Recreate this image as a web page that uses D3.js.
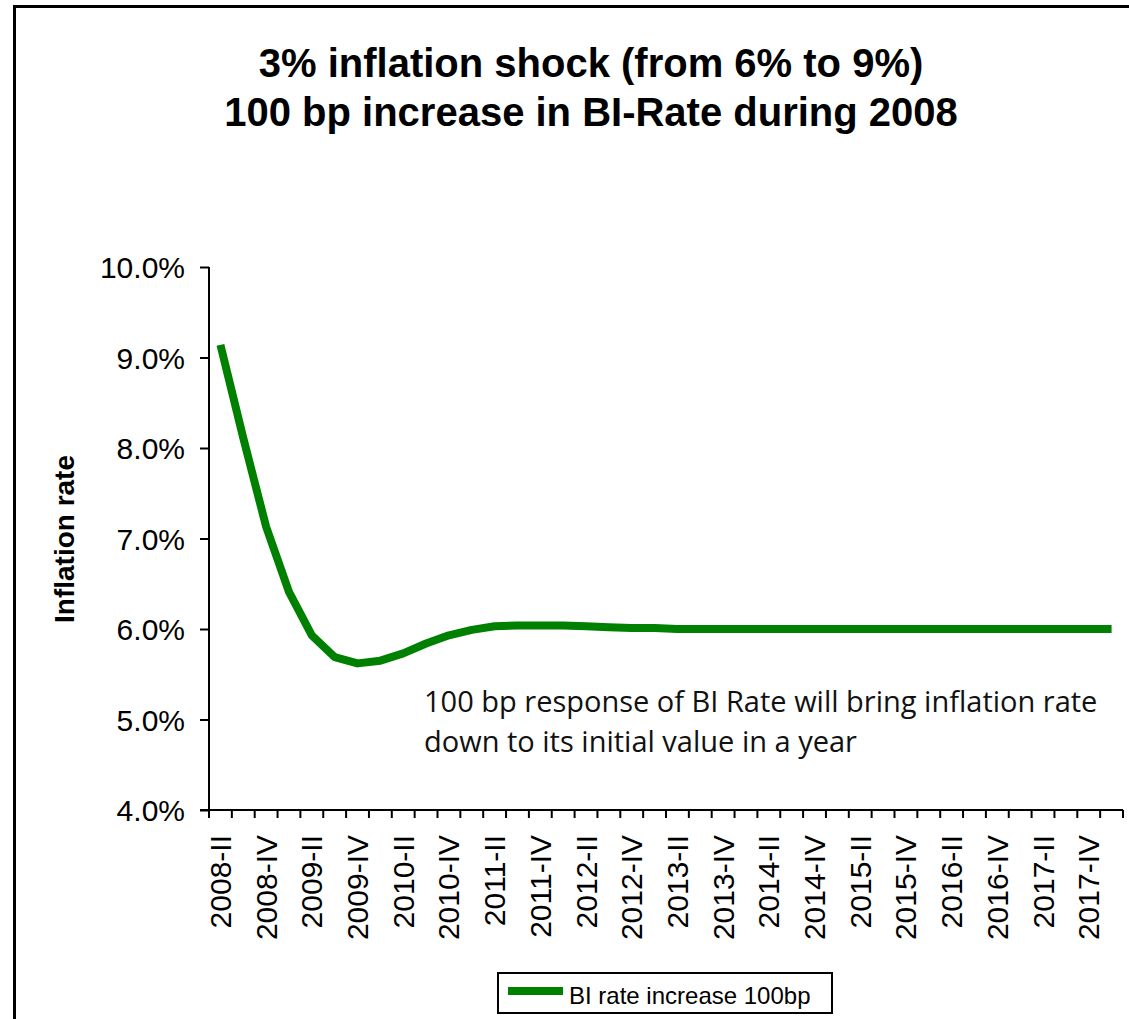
<!DOCTYPE html>
<html>
<head>
<meta charset="utf-8">
<script src="https://cdn.jsdelivr.net/npm/d3@7"></script>
<style>
  body { margin: 0; background: #fff; }
  svg { display: block; }
</style>
</head>
<body>
<div id="vis"></div>
<script>
// quarters from 2008-II to 2018-I
var romans = ['I', 'II', 'III', 'IV'];
var quarters = [];
for (var yr = 2008; yr <= 2018; yr++) {
  romans.forEach(function (r, i) {
    if (yr === 2008 && i === 0) return;
    if (yr === 2018 && i > 0) return;
    quarters.push(yr + '-' + r);
  });
}

// inflation rate (%)
var inflation = [
  9.14, 8.11, 7.13, 6.41, 5.93, 5.69, 5.62, 5.65, 5.73, 5.84,
  5.93, 5.99, 6.03, 6.04, 6.04, 6.04, 6.03, 6.02, 6.01, 6.01,
  6.00, 6.00, 6.00, 6.00, 6.00, 6.00, 6.00, 6.00, 6.00, 6.00,
  6.00, 6.00, 6.00, 6.00, 6.00, 6.00, 6.00, 6.00, 6.00, 6.00
];

var yTicks = [4, 5, 6, 7, 8, 9, 10];
var titleLines = ['3% inflation shock (from 6% to 9%)', '100 bp increase in BI-Rate during 2008'];
var noteLines = ['100 bp response of BI Rate will bring inflation rate', 'down to its initial value in a year'];
var seriesName = 'BI rate increase 100bp';

var width = 1129;
var height = 1019;
var green = '#008000';

var svg = d3.select('#vis').append('svg')
  .attr('width', width)
  .attr('height', height);

// outer frame (right/bottom edges fall outside the picture)
svg.append('rect')
  .attr('x', 14.5).attr('y', 6.5)
  .attr('width', 1140).attr('height', 1040)
  .attr('fill', 'none')
  .attr('stroke', '#000')
  .attr('stroke-width', 3);

// title
svg.append('text')
  .attr('text-anchor', 'middle')
  .style('font-family', 'Liberation Sans, Arial, sans-serif')
  .style('font-weight', 'bold')
  .style('font-size', '40px')
  .selectAll('tspan')
  .data(titleLines)
  .enter().append('tspan')
  .attr('x', 591)
  .attr('y', function (d, i) { return 77 + i * 49; })
  .text(function (d) { return d; });

var x = d3.scaleBand()
  .domain(quarters)
  .range([209, 1123])
  .padding(0);

var y = d3.scaleLinear()
  .domain([4, 10])
  .range([810, 267]);

// y axis
var yAxis = svg.append('g')
  .attr('transform', 'translate(209,0)')
  .call(d3.axisLeft(y).tickValues(yTicks).tickSize(9).tickPadding(15)
    .tickFormat(function (d) { return d.toFixed(1) + '%'; }));
yAxis.select('.domain').attr('stroke-width', 2).attr('d', 'M0,267V810');
yAxis.selectAll('.tick line').attr('stroke-width', 2);
yAxis.selectAll('.tick text')
  .attr('dy', '0.36em')
  .style('font-family', 'Liberation Sans, Arial, sans-serif')
  .style('font-size', '30px')
  .attr('fill', '#000');

// x axis
var xAxis = svg.append('g')
  .attr('transform', 'translate(0,810)')
  .call(d3.axisBottom(x).tickSize(0).tickPadding(0)
    .tickFormat(function (d, i) { return i % 2 === 0 ? d : ''; }));
xAxis.select('.domain').attr('stroke-width', 2).attr('d', 'M200,0H1123');
xAxis.selectAll('.tick text')
  .attr('transform', 'rotate(-90)')
  .attr('x', -25)
  .attr('y', 0)
  .attr('dy', '0.35em')
  .attr('text-anchor', 'end')
  .style('font-family', 'Liberation Sans, Arial, sans-serif')
  .style('font-size', '30px')
  .attr('fill', '#000');

// category boundary ticks
var bounds = quarters.map(function (q) { return x(q); }).concat([x.range()[1]]);
xAxis.selectAll('.qtick')
  .data(bounds)
  .enter().append('line')
  .attr('class', 'qtick')
  .attr('x1', function (d) { return d; })
  .attr('x2', function (d) { return d; })
  .attr('y1', 0).attr('y2', 8)
  .attr('stroke', '#000')
  .attr('stroke-width', 2);

// y axis title
svg.append('text')
  .attr('transform', 'translate(74,539) rotate(-90)')
  .attr('text-anchor', 'middle')
  .style('font-family', 'Liberation Sans, Arial, sans-serif')
  .style('font-weight', 'bold')
  .style('font-size', '28px')
  .text('Inflation rate');

// series line
var line = d3.line()
  .x(function (d, i) { return x(quarters[i]) + x.bandwidth() / 2; })
  .y(function (d) { return y(d); });

svg.append('path')
  .datum(inflation)
  .attr('d', line)
  .attr('fill', 'none')
  .attr('stroke', green)
  .attr('stroke-width', 8)
  .attr('stroke-linejoin', 'round');

// annotation
svg.append('text')
  .style('font-family', 'Open Sans, Noto Sans, sans-serif')
  .style('font-size', '29px')
  .attr('fill', '#111')
  .selectAll('tspan')
  .data(noteLines)
  .enter().append('tspan')
  .attr('x', 424)
  .attr('y', function (d, i) { return 712 + i * 40; })
  .text(function (d) { return d; });

// legend
var legend = svg.append('g');
legend.append('rect')
  .attr('x', 498).attr('y', 973)
  .attr('width', 334).attr('height', 40)
  .attr('fill', '#fff')
  .attr('stroke', '#000')
  .attr('stroke-width', 2);
legend.append('line')
  .attr('x1', 508).attr('x2', 563)
  .attr('y1', 991).attr('y2', 991)
  .attr('stroke', green)
  .attr('stroke-width', 8);
legend.append('text')
  .attr('x', 569).attr('y', 1004)
  .style('font-family', 'Liberation Sans, Arial, sans-serif')
  .style('font-size', '24px')
  .text(seriesName);
</script>
</body>
</html>
